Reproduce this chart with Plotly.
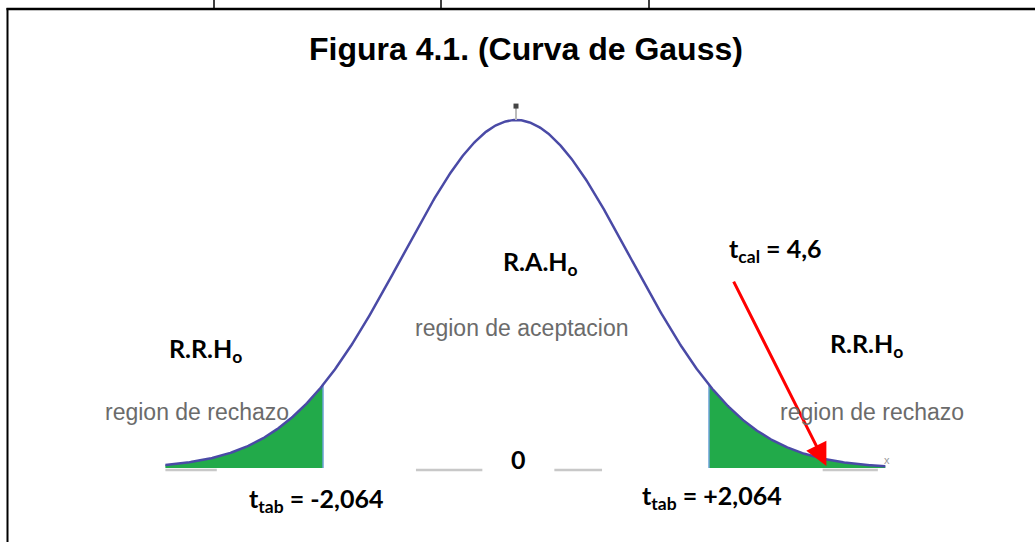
import numpy as np
import plotly.graph_objects as go

# ---- chart values ----
TITLE = "Figura 4.1. (Curva de Gauss)"
T_CRIT = 2.064          # t tabulado (±)
T_CAL = 4.6             # t calculado
SIGMA = 1.22            # spread of the drawn Gauss curve (t units)
X_LEFT_END = -3.75      # where the drawn curve starts
X_RIGHT_END = 3.95      # where the drawn curve ends
ARROW_FROM = (2.32, 0.54)
ARROW_TO = (3.32, 0.006)

W, H = 1035, 542
CX, PXU = 516, 93.5     # pixel of t=0, pixels per t unit
BASE, PEAK = 468, 120   # baseline and peak pixel rows

def gauss(x):
    return np.exp(-x**2 / (2 * SIGMA**2))

x = np.linspace(X_LEFT_END, X_RIGHT_END, 600)
y = gauss(x)

GREEN = "#22AA4A"
CURVE = "#4a4aa6"
fig = go.Figure()

# left rejection region
xl = x[x <= -T_CRIT]
xl = np.append(xl, -T_CRIT)
fig.add_trace(go.Scatter(x=np.concatenate([xl, [-T_CRIT, xl[0]]]),
                         y=np.concatenate([gauss(xl), [0, 0]]),
                         fill="toself", fillcolor=GREEN, mode="none",
                         hoverinfo="skip", showlegend=False))
# right rejection region
xr = x[x >= T_CRIT]
xr = np.insert(xr, 0, T_CRIT)
fig.add_trace(go.Scatter(x=np.concatenate([xr, [xr[-1], T_CRIT]]),
                         y=np.concatenate([gauss(xr), [0, 0]]),
                         fill="toself", fillcolor=GREEN, mode="none",
                         hoverinfo="skip", showlegend=False))
# edges of the shaded regions
for xc in (-T_CRIT, T_CRIT):
    fig.add_trace(go.Scatter(x=[xc, xc], y=[0, gauss(xc)], mode="lines",
                             line=dict(color="#6fa3d8", width=1.5),
                             hoverinfo="skip", showlegend=False))
# curve
fig.add_trace(go.Scatter(x=x, y=y, mode="lines",
                         line=dict(color=CURVE, width=2.5),
                         hoverinfo="skip", showlegend=False))
# peak tick
fig.add_trace(go.Scatter(x=[0, 0], y=[1.0, 1.035], mode="lines",
                         line=dict(color="#bbbbbb", width=2),
                         hoverinfo="skip", showlegend=False))
fig.add_trace(go.Scatter(x=[0], y=[1.04], mode="markers",
                         marker=dict(color="#444444", size=5, symbol="square"),
                         hoverinfo="skip", showlegend=False))
# faint baseline pieces
for a, b_ in [(X_LEFT_END, -3.2), (-1.07, -0.36), (0.41, 0.92), (3.28, 3.87)]:
    fig.add_trace(go.Scatter(x=[a, b_], y=[-0.006, -0.006], mode="lines",
                             line=dict(color="#c8c8c8", width=2.5),
                             hoverinfo="skip", showlegend=False))

# arrow
fig.add_annotation(x=ARROW_TO[0], y=ARROW_TO[1], ax=ARROW_FROM[0], ay=ARROW_FROM[1],
                   xref="x", yref="y", axref="x", ayref="y", text="",
                   showarrow=True, arrowhead=2, arrowsize=1.5, arrowwidth=3,
                   arrowcolor="#ff0000")

BOLD = dict(family="Lato, Open Sans, sans-serif", size=25, color="black")
GRAY = dict(family="Liberation Sans, Arial, sans-serif", size=23, color="#6b6b6b")

def ann(text, px, py, font):
    fig.add_annotation(x=(px - CX) / PXU, y=(BASE - py) / (BASE - PEAK),
                       xref="x", yref="y", text=text, showarrow=False, font=font,
                       xanchor="center", yanchor="middle")

def b(t):
    return "<b>%s</b>" % t

ann(b("R.A.H<sub>o</sub>"), 540, 263, BOLD)
ann("region de aceptacion", 522, 328, GRAY)
ann(b("R.R.H<sub>o</sub>"), 205, 350, BOLD)
ann("region de rechazo", 197, 412, GRAY)
ann(b("R.R.H<sub>o</sub>"), 866, 345, BOLD)
ann("region de rechazo", 872, 412, GRAY)
ann(b("t<sub>cal</sub> = %s" % str(T_CAL).replace(".", ",")), 775, 250, BOLD)
ann(b("0"), 518, 459, BOLD)
ann(b("t<sub>tab</sub> = -%s" % str(T_CRIT).replace(".", ",")), 316, 500, BOLD)
ann(b("t<sub>tab</sub> = +%s" % str(T_CRIT).replace(".", ",")), 712, 497, BOLD)
ann("x", 887, 460, dict(family="Liberation Sans", size=11, color="#999999"))

# title
fig.add_annotation(x=526 / W, y=1 - 49 / H, xref="paper", yref="paper",
                   xanchor="center", yanchor="middle",
                   text="<b>%s</b>" % TITLE, showarrow=False,
                   font=dict(family="Liberation Sans, Arial, sans-serif", size=32, color="black"))

# table borders
def hline(x0, x1, py, w):
    fig.add_shape(type="line", xref="paper", yref="paper", x0=x0 / W, x1=x1 / W,
                  y0=1 - py / H, y1=1 - py / H, line=dict(color="black", width=w))
def vline(px, y0, y1, w):
    fig.add_shape(type="line", xref="paper", yref="paper", x0=px / W, x1=px / W,
                  y0=1 - y0 / H, y1=1 - y1 / H, line=dict(color="black", width=w))

hline(6.5, W, 9, 2.5)
vline(7.5, 8, H, 2)
for px in (214, 441, 649):
    vline(px, 0, 9, 1.5)

fig.update_layout(
    width=W, height=H, margin=dict(l=0, r=0, t=0, b=0),
    paper_bgcolor="white", plot_bgcolor="white",
    xaxis=dict(range=[-CX / PXU, (W - CX) / PXU], visible=False, fixedrange=True),
    yaxis=dict(range=[-(H - BASE) / (BASE - PEAK), BASE / (BASE - PEAK)],
               visible=False, fixedrange=True),
    showlegend=False,
)
fig.write_html("out.html", config={"displayModeBar": False},
               post_script="document.body.style.margin='0';")
